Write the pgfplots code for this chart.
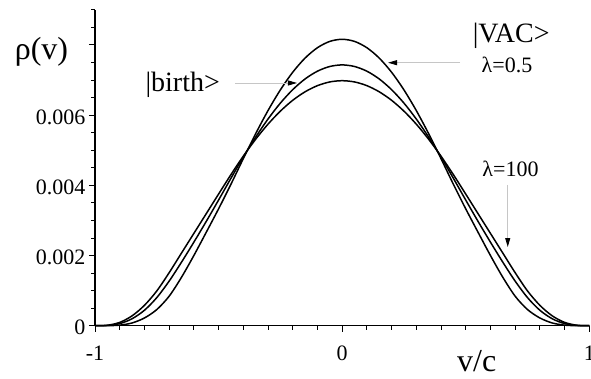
\documentclass[border=0pt]{standalone}
\usepackage{fontspec}
\setmainfont{Liberation Serif}
\usepackage{pgfplots}
\pgfplotsset{compat=1.18}
\usepackage{pgfplotstable}
\usetikzlibrary{arrows.meta}

% velocity distributions rho(v) for the three states
\pgfplotstableread{
v      outer     middle    inner
-1.00  0.000000  0.000000  0.000000
-0.95  0.000013  0.000007  0.000001
-0.90  0.000094  0.000060  0.000016
-0.85  0.000281  0.000198  0.000078
-0.80  0.000580  0.000440  0.000220
-0.75  0.000990  0.000800  0.000460
-0.70  0.001510  0.001270  0.000840
-0.65  0.002070  0.001810  0.001380
-0.60  0.002630  0.002380  0.002000
-0.55  0.003190  0.002970  0.002660
-0.50  0.003750  0.003580  0.003330
-0.45  0.004304  0.004200  0.004030
-0.40  0.004830  0.004805  0.004760
-0.35  0.005312  0.005372  0.005470
-0.30  0.005742  0.005888  0.006129
-0.25  0.006113  0.006342  0.006718
-0.20  0.006422  0.006725  0.007221
-0.15  0.006664  0.007030  0.007625
-0.10  0.006839  0.007251  0.007920
-0.05  0.006945  0.007385  0.008100
 0.00  0.006980  0.007430  0.008160
 0.05  0.006945  0.007385  0.008100
 0.10  0.006839  0.007251  0.007920
 0.15  0.006664  0.007030  0.007625
 0.20  0.006422  0.006725  0.007221
 0.25  0.006113  0.006342  0.006718
 0.30  0.005742  0.005888  0.006129
 0.35  0.005312  0.005372  0.005470
 0.40  0.004830  0.004805  0.004760
 0.45  0.004304  0.004200  0.004030
 0.50  0.003750  0.003580  0.003330
 0.55  0.003190  0.002970  0.002660
 0.60  0.002630  0.002380  0.002000
 0.65  0.002070  0.001810  0.001380
 0.70  0.001510  0.001270  0.000840
 0.75  0.000990  0.000800  0.000460
 0.80  0.000580  0.000440  0.000220
 0.85  0.000281  0.000198  0.000078
 0.90  0.000094  0.000060  0.000016
 0.95  0.000013  0.000007  0.000001
 1.00  0.000000  0.000000  0.000000
}\rhotable

\begin{document}
\begin{tikzpicture}
\begin{axis}[
  at={(95pt,52.3pt)}, anchor=south west,
  scale only axis,
  width=494.3pt, height=315.9pt,
  xmin=-1, xmax=1, ymin=0, ymax=0.009,
  enlargelimits=false,
  clip=false,
  axis lines=left,
  axis line style={-, black, line width=1.2pt},
  tick align=outside,
  tick style={black, line width=0.9pt},
  major tick length=6pt,
  minor tick length=4pt,
  xtick={-1,0,1},
  xticklabels={-1,0,1},
  minor xtick={-0.9,-0.8,-0.7,-0.6,-0.5,-0.4,-0.3,-0.2,-0.1,0.1,0.2,0.3,0.4,0.5,0.6,0.7,0.8,0.9},
  ytick={0,0.002,0.004,0.006,0.008},
  yticklabels={0,0.002,0.004,0.006,{}},
  minor ytick={0.0005,0.001,0.0015,0.0025,0.003,0.0035,0.0045,0.005,0.0055,0.0065,0.007,0.0075,0.0085,0.009},
  scaled y ticks=false,
  ticklabel style={font=\fontsize{22}{22}\selectfont},
  xticklabel style={yshift=-11pt},
  yticklabel style={yshift=-2pt},
  /pgf/number format/assume math mode=true,
]
\addplot[black, line width=1.5pt, smooth, tension=0.5] table[x=v, y=outer] {\rhotable};
\addplot[black, line width=1.5pt, smooth, tension=0.5] table[x=v, y=middle] {\rhotable};
\addplot[black, line width=1.5pt, smooth, tension=0.5] table[x=v, y=inner] {\rhotable};

% axis titles
\node[anchor=base, font=\fontsize{32}{32}\selectfont] at (axis cs:-1.2165,0.00757) {ρ(v)};
\node[anchor=base, font=\fontsize{32}{32}\selectfont] at (axis cs:0.5444,-0.00131) {v/c};

% state labels and pointers
\node[anchor=base, font=\fontsize{28}{28}\selectfont] at (axis cs:-0.645,0.006667) {|birth>};
\draw[gray!45, line width=0.9pt, -{Triangle[length=9pt,width=5pt,color=black]}]
  (axis cs:-0.4335,0.006915) -- (axis cs:-0.1827,0.006915);

\node[anchor=base, font=\fontsize{28}{28}\selectfont] at (axis cs:0.684,0.008063) {|VAC>};
\node[anchor=base, font=\fontsize{22}{22}\selectfont] at (axis cs:0.667,0.007208) {λ=0.5};
\draw[gray!45, line width=0.9pt, -{Triangle[length=9pt,width=5pt,color=black]}]
  (axis cs:0.4769,0.007493) -- (axis cs:0.1856,0.007493);

\node[anchor=base, font=\fontsize{22}{22}\selectfont] at (axis cs:0.681,0.004265) {λ=100};
\draw[gray!45, line width=0.9pt, -{Triangle[length=9pt,width=5pt,color=black]}]
  (axis cs:0.670,0.004009) -- (axis cs:0.670,0.002242);
\end{axis}
\pgfresetboundingbox
\useasboundingbox (0,0) rectangle (591pt,378pt);
\end{tikzpicture}
\end{document}
